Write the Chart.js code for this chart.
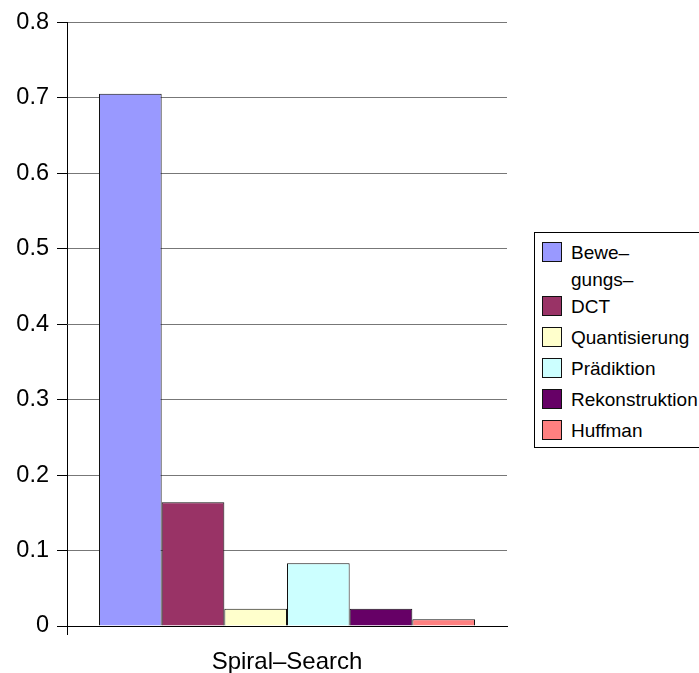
<!DOCTYPE html>
<html>
<head>
<meta charset="utf-8">
<script src="https://cdn.jsdelivr.net/npm/chart.js@4/dist/chart.umd.min.js"></script>
<style>
  html, body { margin:0; padding:0; background:#fff; }
  #wrap { position:relative; width:699px; height:673px; overflow:hidden; }
  #c { position:absolute; left:0; top:0; }
  #legend { position:absolute; left:534px; top:232px; width:180px; height:216px; border:1px solid #000;
            box-sizing:border-box; background:#fff; padding-top:3.5px;
            font-family:'Liberation Sans', Arial, sans-serif; font-size:19px; color:#000; }
  .item { display:flex; align-items:flex-start; height:31px; }
  .item.multi { height:54px; }
  .sw { width:20px; height:20px; border:1px solid #111; box-sizing:border-box; margin-left:7px; margin-top:5.5px; flex:none; }
  .lbl { margin-left:9px; line-height:31px; white-space:pre; }
  .item.multi .lbl { line-height:27px; padding-top:2px; }
</style>
</head>
<body>
<div id="wrap">
  <canvas id="c" width="699" height="673"></canvas>
  <div id="legend"></div>
</div>
<script>
// ---- data ----
const categories = ['Spiral\u2013Search'];
const seriesNames = ['Bewe\u2013\ngungs\u2013', 'DCT', 'Quantisierung', 'Pr\u00e4diktion', 'Rekonstruktion', 'Huffman'];
const seriesValues = [0.705, 0.164, 0.023, 0.083, 0.023, 0.009];
const yTicks = [0, 0.1, 0.2, 0.3, 0.4, 0.5, 0.6, 0.7, 0.8];

// ---- styles ----
const colors = ['#9999FF', '#993366', '#FFFFCC', '#CCFFFF', '#660066', '#FF8080'];

const datasets = seriesNames.map((name, i) => ({
  label: name,
  data: [seriesValues[i]],
  backgroundColor: colors[i],
  borderColor: '#111',
  borderWidth: 1,
  categoryPercentage: 0.8545,
  barPercentage: 1.0
}));

const FONT = "'Liberation Sans', Arial, sans-serif";

new Chart(document.getElementById('c'), {
  type: 'bar',
  data: { labels: categories, datasets },
  options: {
    responsive: false,
    animation: false,
    devicePixelRatio: 1,
    layout: { padding: { top: 19, right: 192, left: 0, bottom: 0 } },
    plugins: { legend: { display: false }, tooltip: { enabled: false } },
    scales: {
      x: {
        offset: true,
        grid: {
          display: true,
          drawOnChartArea: false,
          drawTicks: true,
          tickLength: 9,
          color: (ctx) => ctx.index === 0 ? '#000' : 'rgba(0,0,0,0)',
          tickColor: (ctx) => ctx.index === 0 ? '#000' : 'rgba(0,0,0,0)'
        },
        border: { display: true, color: '#000', width: 1 },
        ticks: { color: '#000', font: { family: FONT, size: 24 }, padding: 13 },
        afterFit: (s) => { s.height = 47; }
      },
      y: {
        min: 0, max: 0.8,
        afterBuildTicks: (s) => { s.ticks = yTicks.map(v => ({ value: v })); },
        grid: {
          color: (ctx) => ctx.tick && ctx.tick.value === 0 ? '#000' : '#777',
          tickColor: '#000',
          tickLength: 10,
          lineWidth: 1
        },
        border: { display: true, color: '#000', width: 1 },
        ticks: {
          color: '#000', font: { family: FONT, size: 23.5 }, padding: 8,
          callback: (v) => String(Math.round(v * 10) / 10)
        },
        afterFit: (s) => { s.width = 67; }
      }
    }
  }
});

// ---- legend (HTML) ----
const leg = document.getElementById('legend');
seriesNames.forEach((name, i) => {
  const it = document.createElement('div');
  it.className = 'item' + (name.includes('\n') ? ' multi' : '');
  const sw = document.createElement('div');
  sw.className = 'sw';
  sw.style.background = colors[i];
  const lb = document.createElement('div');
  lb.className = 'lbl';
  lb.textContent = name;
  it.appendChild(sw); it.appendChild(lb);
  leg.appendChild(it);
});
</script>
</body>
</html>
